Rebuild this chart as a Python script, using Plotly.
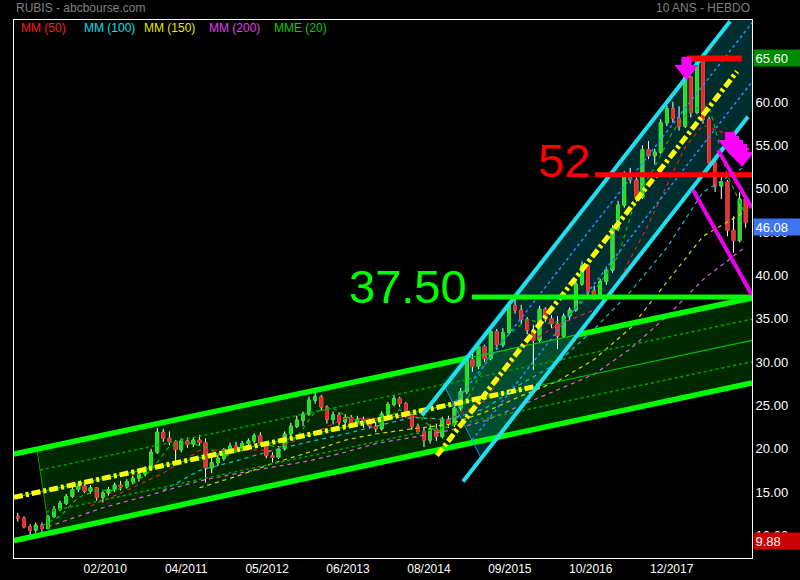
import plotly.graph_objects as go
import pandas as pd

FONT = "Liberation Sans, Arial, Helvetica, sans-serif"

# ---------------- data: monthly candles ----------------
candle_dates = (pd.date_range("2008-12-01", periods=121, freq="MS") + pd.Timedelta(days=9)).strftime("%Y-%m-%d").tolist()

opens = [12.2, 12.0, 11.0, 10.6, 11.2, 10.8, 12.2, 13.0, 13.7, 14.5,
         15.3, 15.7, 15.1, 15.5, 14.4, 14.9, 15.3, 15.8, 15.6, 16.2,
         16.6, 17.1, 17.8, 19.6, 21.9, 21.2, 20.8, 19.9, 20.9, 20.5,
         21.0, 20.7, 17.8, 18.4, 18.9, 19.9, 20.3, 19.9, 20.6, 20.9,
         21.5, 20.7, 19.2, 19.0, 20.0, 21.7, 22.6, 23.3, 24.0, 25.6,
         26.0, 24.8, 23.4, 23.9, 23.1, 23.6, 23.0,
         23.4, 23.2, 22.6, 22.3, 24.0, 25.1, 25.8, 25.2, 23.9, 22.6, 22.0,
         21.0, 22.3, 21.4, 23.4, 22.8, 24.7, 26.6, 30.3, 29.5, 31.8,
         30.4, 33.5, 32.0, 33.4, 36.5, 36.0, 34.9, 33.7, 32.5, 36.1,
         35.0, 34.4, 33.0, 35.3, 36.0, 39.0, 41.1, 38.2, 37.8, 39.3,
         40.6, 45.4, 48.1, 51.5, 51.0, 49.0, 54.5, 53.8, 54.2, 57.6,
         59.2, 58.1, 57.2, 62.9, 58.8, 64.7, 58.0, 53.0, 50.3, 50.8,
         45.2, 44.0, 48.8]
highs = [12.6, 12.2, 11.3, 11.5, 11.5, 12.4, 13.4, 14.0, 14.8, 15.6,
         16.2, 16.0, 15.8, 15.6, 15.1, 15.6, 16.1, 16.3, 16.5, 16.9,
         17.4, 18.0, 20.0, 22.4, 22.3, 22.0, 21.0, 21.2, 21.3, 21.3,
         21.6, 21.2, 19.2, 19.3, 20.1, 20.7, 20.8, 20.9, 21.2, 21.8,
         21.9, 20.9, 19.6, 20.3, 22.0, 23.0, 23.8, 24.3, 26.0, 26.8,
         26.2, 25.0, 24.3, 24.2, 24.0, 23.9, 23.8,
         23.7, 23.4, 23.1, 24.3, 25.4, 26.2, 26.0, 25.4, 24.0, 22.9, 22.5,
         22.8, 22.9, 23.7, 23.8, 25.0, 27.0, 30.8, 31.0, 32.3, 32.0,
         33.9, 33.8, 33.9, 37.0, 37.5, 36.6, 35.2, 34.3, 36.5, 36.3,
         35.4, 35.3, 35.6, 36.3, 39.4, 41.6, 41.3, 38.8, 39.6, 41.0,
         45.8, 48.6, 52.0, 52.4, 51.3, 55.0, 55.5, 54.6, 58.0, 59.6,
         60.0, 59.5, 63.4, 63.0, 65.0, 64.9, 58.3, 53.2, 51.4, 51.0,
         46.8, 49.6, 49.0]
lows = [11.6, 10.8, 10.0, 10.3, 10.4, 10.7, 12.0, 12.8, 13.5, 14.3,
        15.0, 14.9, 14.8, 14.0, 13.8, 14.6, 15.0, 15.2, 15.4, 15.9,
        16.2, 16.8, 17.6, 19.4, 20.8, 20.4, 18.5, 19.6, 20.1, 20.2,
        20.4, 16.1, 17.2, 18.0, 18.6, 19.5, 19.6, 19.7, 20.2, 20.6,
        20.4, 18.9, 18.4, 18.8, 19.8, 21.4, 22.4, 22.6, 23.8, 25.2,
        24.4, 22.9, 22.8, 22.7, 22.5, 22.7, 22.6,
        22.4, 22.3, 21.9, 22.1, 23.8, 24.9, 24.8, 23.6, 22.2, 21.7, 20.2,
        20.6, 20.9, 21.2, 22.4, 22.5, 24.4, 26.3, 28.9, 29.2, 30.0,
        30.2, 31.5, 31.7, 33.2, 35.6, 34.4, 33.2, 29.1, 32.3, 34.6,
        33.9, 31.5, 32.8, 34.8, 35.8, 38.8, 37.7, 37.2, 37.6, 38.9,
        40.3, 45.1, 47.8, 50.6, 48.5, 48.8, 53.4, 52.8, 54.0, 57.2,
        57.6, 56.7, 57.0, 58.2, 58.6, 57.5, 52.5, 49.6, 48.8, 44.5,
        42.6, 43.8, 45.5]
closes = [12.0, 11.0, 10.6, 11.2, 10.8, 12.2, 13.0, 13.7, 14.5, 15.3,
          15.7, 15.1, 15.5, 14.4, 14.9, 15.3, 15.8, 15.6, 16.2, 16.6,
          17.1, 17.8, 19.6, 21.9, 21.2, 20.8, 19.9, 20.9, 20.5, 21.0,
          20.7, 17.8, 18.4, 18.9, 19.9, 20.3, 19.9, 20.6, 20.9, 21.5,
          20.7, 19.2, 19.0, 20.0, 21.7, 22.6, 23.3, 24.0, 25.6, 26.0,
          24.8, 23.4, 23.9, 23.1, 23.6, 23.0, 23.4,
          23.2, 22.6, 22.3, 24.0, 25.1, 25.8, 25.2, 23.9, 22.6, 22.0, 21.0,
          22.3, 21.4, 23.4, 22.8, 24.7, 26.6, 30.3, 29.5, 31.8, 30.4,
          33.5, 32.0, 33.4, 36.5, 36.0, 34.9, 33.7, 32.5, 36.1, 35.0,
          34.4, 33.0, 35.3, 36.0, 39.0, 41.1, 38.2, 37.8, 39.3, 40.6,
          45.4, 48.1, 51.5, 51.0, 49.0, 54.5, 53.8, 54.2, 57.6, 59.2,
          58.1, 57.2, 62.9, 58.8, 64.7, 58.0, 53.0, 50.3, 50.8, 45.2,
          44.0, 48.8, 46.08]

# ---------------- moving averages (sampled readings) ----------------
mm50_dates = ["2009-12", "2010-06", "2010-12", "2011-06", "2011-12", "2012-06", "2012-12", "2013-06",
              "2013-11", "2014-05", "2014-11", "2015-05", "2015-11", "2016-05", "2016-11", "2017-02",
              "2017-05", "2017-08", "2017-11", "2018-02", "2018-05", "2018-09", "2018-12"]
mm50_vals = [13.4, 15.2, 17.2, 19.8, 19.9, 19.8, 21.6, 23.5, 23.5, 23.7, 23.3, 25.5, 31.6, 34.3,
             36.0, 37.9, 41.9, 45.9, 50.4, 54.8, 57.3, 56.3, 53.3]
mm100_dates = ["2010-12", "2011-06", "2011-12", "2012-06", "2012-12", "2013-06", "2013-11", "2014-05",
               "2014-11", "2015-05", "2015-11", "2016-05", "2016-11", "2017-05", "2017-11", "2018-05", "2018-12"]
mm100_vals = [15.2, 17.5, 18.6, 19.8, 20.8, 21.7, 22.6, 23.6, 23.4, 24.6, 27.5, 29.9, 33.8, 38.1, 43.2, 49.6, 52.6]
mm150_dates = ["2011-06", "2011-12", "2012-06", "2012-12", "2013-06", "2013-11", "2014-05", "2014-11",
               "2015-05", "2015-11", "2016-05", "2016-11", "2017-05", "2017-11", "2018-05", "2018-12"]
mm150_vals = [15.5, 16.8, 18.3, 19.6, 21.0, 21.7, 22.3, 22.8, 24.2, 26.1, 27.8, 30.3, 33.9, 39.3, 44.5, 47.4]
mm200_dates = ["2009-05", "2010-02", "2010-10", "2011-06", "2012-02", "2012-12", "2013-06", "2013-11",
               "2014-05", "2014-11", "2015-05", "2015-11", "2016-05", "2016-11", "2017-05", "2017-11",
               "2018-05", "2018-12"]
mm200_vals = [11.0, 13.2, 14.7, 16.3, 17.4, 18.6, 19.6, 20.6, 21.3, 22.1, 23.2, 25.0, 26.8, 28.6, 31.5,
              35.3, 39.5, 43.3]
mme20_dates = ["2009-04", "2009-07", "2009-10", "2010-01", "2010-04", "2010-07", "2010-10", "2011-01",
               "2011-04", "2011-07", "2011-10", "2012-01", "2012-04", "2012-07", "2012-10", "2013-01",
               "2013-04", "2013-07", "2013-09", "2013-12", "2014-03", "2014-06", "2014-09", "2014-12",
               "2015-03", "2015-06", "2015-09", "2015-12", "2016-03", "2016-06", "2016-09", "2016-12",
               "2017-03", "2017-06", "2017-09", "2017-12", "2018-03", "2018-06", "2018-09", "2018-12"]
mme20_vals = [11.1, 12.2, 14.4, 15.2, 15.2, 15.9, 17.5, 20.3, 20.7, 20.2, 19.1, 19.9, 20.7, 20.1, 21.3,
              24.3, 24.7, 23.4, 23.2, 23.0, 24.5, 23.9, 21.9, 22.9, 26.8, 31.1, 33.2, 34.9, 34.4, 34.8,
              36.9, 39.1, 42.2, 49.0, 52.5, 56.6, 59.2, 59.5, 51.5, 47.0]

# ---------------- drawn analysis objects (endpoints) ----------------
x_range = ["2008-11-21", "2019-01-11"]
green_upper_x, green_upper_y = ["2008-11-21", "2019-01-11"], [19.4, 37.4]
green_upper_thick_a = (["2008-11-21", "2015-02-10"], [19.4, 30.44])
green_upper_thick_b = (["2016-08-19", "2019-01-11"], [33.15, 37.4])
green_lower_x, green_lower_y = ["2008-11-21", "2019-01-11"], [9.4, 27.6]
green_center_x, green_center_y = ["2008-11-21", "2019-01-11"], [14.4, 32.5]
green_trend_x, green_trend_y = ["2008-11-21", "2016-02-12"], [14.4, 27.3]
green_qhi_x, green_qhi_y = ["2009-04-01", "2019-01-11"], [17.54, 34.95]
green_qlo_x, green_qlo_y = ["2009-05-03", "2019-01-11"], [12.70, 30.05]
green_edge_x, green_edge_y = ["2009-03-16", "2009-05-18"], [19.96, 10.28]
green_fill_pts = [("2009-03-16", 19.96), ("2019-01-11", 37.4), ("2019-01-11", 27.6), ("2009-05-18", 10.28)]

cyan_upper_x, cyan_upper_y = ["2014-06-30", "2018-09-23"], [23.83, 69.30]
cyan_lower_x, cyan_lower_y = ["2015-01-22", "2018-12-22"], [16.22, 58.29]
cyan_center_x, cyan_center_y = ["2014-09-13", "2018-10-28"], [19.22, 63.51]
cyan_qhi_x, cyan_qhi_y = ["2014-11-27", "2019-01-11"], [24.84, 69.13]
cyan_qlo_x, cyan_qlo_y = ["2015-03-08", "2019-01-11"], [20.97, 62.31]
cyan_edge_x, cyan_edge_y = ["2014-10-13", "2015-04-25"], [27.59, 18.82]
cyan_fill_pts = [("2014-10-13", 27.59), ("2018-12-15", 71.76), ("2019-05-31", 71.76),
                 ("2019-05-31", 63.02), ("2015-04-25", 18.82)]

magenta_upper_x, magenta_upper_y = ["2018-07-24", "2019-01-11"], [54.46, 47.77]
magenta_lower_x, magenta_lower_y = ["2018-03-21", "2019-01-11"], [49.85, 37.74]

level_green_x, level_green_y = ["2015-03-08", "2019-01-11"], [37.5, 37.5]
level_red_x, level_red_y = ["2016-11-14", "2019-01-11"], [51.6, 51.6]
top_bar_x, top_bar_y = ["2018-02-19", "2018-11-22"], [65.0, 65.0]

arrow_tips = [("2018-02-16", 62.54), ("2018-09-23", 53.89), ("2018-10-13", 53.43),
              ("2018-11-02", 52.96), ("2018-11-22", 52.50)]

tick_dates = ["2010-02-22", "2011-04-04", "2012-05-14", "2013-06-24", "2014-08-04",
              "2015-09-14", "2016-10-24", "2017-12-04"]
tick_labels = ["02/2010", "04/2011", "05/2012", "06/2013", "08/2014", "09/2015", "10/2016", "12/2017"]
y_ticks = [10, 15, 20, 25, 30, 35, 40, 45, 50, 55, 60, 65]

legend_items = [("MM (50)", "#ff1a1a"), ("MM (100)", "#00e0e8"), ("MM (150)", "#e8e800"),
                ("MM (200)", "#e040e8"), ("MME (20)", "#00d000")]
legend_px = [19, 82, 142, 207, 272]

price_boxes = [("65.60", 65.60, "#008a00"), ("46.08", 46.08, "#3d74f0"), ("9.88", 9.88, "#cc0000")]

# ---------------- figure ----------------
fig = go.Figure()


def add_line(xs, ys, color, width, dash=None, opacity=1.0):
    fig.add_trace(go.Scatter(x=xs, y=ys, mode="lines", opacity=opacity,
                             line=dict(color=color, width=width, dash=dash),
                             hoverinfo="skip", showlegend=False))


# wicks (white) then coloured bodies on top
fig.add_trace(go.Candlestick(
    x=candle_dates, open=opens, high=highs, low=lows, close=closes,
    increasing=dict(fillcolor="#ffffff", line=dict(color="#ffffff", width=1)),
    decreasing=dict(fillcolor="#ffffff", line=dict(color="#ffffff", width=1)),
    whiskerwidth=0, showlegend=False, hoverinfo="skip"))
body_top = [max(o, c) for o, c in zip(opens, closes)]
body_bot = [min(o, c) for o, c in zip(opens, closes)]
fig.add_trace(go.Candlestick(
    x=candle_dates, open=opens, high=body_top, low=body_bot, close=closes,
    increasing=dict(fillcolor="#22e022", line=dict(color="#22e022", width=1)),
    decreasing=dict(fillcolor="#f02828", line=dict(color="#f02828", width=1)),
    whiskerwidth=0, showlegend=False, hoverinfo="skip"))

# moving averages
ma_dash = "4px,4px"
add_line([d + "-10" for d in mme20_dates], mme20_vals, "#00c000", 1.2, ma_dash)
add_line([d + "-10" for d in mm50_dates], mm50_vals, "#e02020", 1.2, ma_dash)
add_line([d + "-10" for d in mm100_dates], mm100_vals, "#00c8d0", 1.2, ma_dash)
add_line([d + "-10" for d in mm150_dates], mm150_vals, "#d8d800", 1.2, ma_dash)
add_line([d + "-10" for d in mm200_dates], mm200_vals, "#e060e0", 1.2, ma_dash)

# long green channel
add_line(green_edge_x, green_edge_y, "#00a000", 1)
add_line(green_qhi_x, green_qhi_y, "#00a000", 1.5, "dot")
add_line(green_qlo_x, green_qlo_y, "#00a000", 1.5, "dot")
add_line(green_center_x, green_center_y, "#00c000", 1.2)
add_line(green_upper_x, green_upper_y, "#00d000", 1.2)
add_line(*green_upper_thick_a, "#00ff00", 5.5)
add_line(*green_upper_thick_b, "#00ff00", 5.5)
add_line(green_lower_x, green_lower_y, "#00ff00", 5.5)
add_line(green_trend_x, green_trend_y, "#ffff00", 5, "9px,3px,3px,3px")

# steep cyan channel
add_line(cyan_edge_x, cyan_edge_y, "#1e90ff", 1)
add_line(cyan_qhi_x, cyan_qhi_y, "#1e90ff", 1.5, "dot")
add_line(cyan_qlo_x, cyan_qlo_y, "#1e90ff", 1.5, "dot")
add_line(cyan_upper_x, cyan_upper_y, "#1ee0f0", 4)
add_line(cyan_lower_x, cyan_lower_y, "#1ee0f0", 4)
add_line(cyan_center_x, cyan_center_y, "#ffff00", 5, "9px,3px,3px,3px")

# levels and magenta channel
add_line(level_green_x, level_green_y, "#00ff00", 5)
add_line(level_red_x, level_red_y, "#ff0000", 5)
add_line(top_bar_x, top_bar_y, "#ff0000", 6)
add_line(magenta_upper_x, magenta_upper_y, "#ee00ee", 4)
add_line(magenta_lower_x, magenta_lower_y, "#ee00ee", 4)


def poly(pts):
    return "M" + " L".join(f"{x},{y}" for x, y in pts) + " Z"


shapes = [
    dict(type="path", path=poly(green_fill_pts), xref="x", yref="y", layer="below",
         fillcolor="rgba(0,255,0,0.16)", line=dict(width=0)),
    dict(type="path", path=poly(cyan_fill_pts), xref="x", yref="y", layer="below",
         fillcolor="rgba(0,210,210,0.22)", line=dict(width=0)),
]
arrow_path = "M -5,23 L 5,23 L 5,15 L 12,15 L 0,0 L -12,15 L -5,15 Z"
for ax_, ay_ in arrow_tips:
    shapes.append(dict(type="path", xref="x", yref="y", xsizemode="pixel", ysizemode="pixel",
                       xanchor=ax_, yanchor=ay_, path=arrow_path, fillcolor="#ff00ff",
                       line=dict(width=0), layer="above"))

annotations = [
    dict(text="RUBIS - abcbourse.com", xref="paper", yref="paper", x=0, y=1, xanchor="left",
         yanchor="middle", yshift=12, showarrow=False, font=dict(family=FONT, size=12, color="#808080")),
    dict(text="10 ANS - HEBDO", xref="paper", yref="paper", x=1, y=1, xanchor="right",
         yanchor="middle", yshift=12, showarrow=False, font=dict(family=FONT, size=12, color="#808080")),
    dict(text="37.50", xref="x", yref="y", x=level_green_x[0], y=38.72, xanchor="right",
         yanchor="middle", xshift=-3, showarrow=False, font=dict(family=FONT, size=47, color="#00ff00")),
    dict(text="52", xref="x", yref="y", x=level_red_x[0], y=53.2, xanchor="right",
         yanchor="middle", xshift=-3, showarrow=False, font=dict(family=FONT, size=47, color="#ff0000")),
]
for (txt, col), px in zip(legend_items, legend_px):
    annotations.append(dict(text=txt, xref="paper", yref="paper", x=(px - 14) / 738, y=1,
                            xanchor="left", yanchor="middle", yshift=-8, showarrow=False,
                            font=dict(family=FONT, size=12, color=col)))
for txt, val, col in price_boxes:
    annotations.append(dict(text=txt, xref="paper", yref="y", x=1, y=val, xanchor="left",
                            yanchor="middle", xshift=1, yshift=-4.5, showarrow=False,
                            bgcolor=col, width=43, height=13, borderpad=1.5, align="left",
                            font=dict(family=FONT, size=13, color="#ffffff")))

fig.update_layout(
    width=800, height=580, autosize=False,
    paper_bgcolor="#000000", plot_bgcolor="#000000",
    margin=dict(l=14, r=48, t=20, b=22, pad=0),
    showlegend=False, boxmode="overlay",
    shapes=shapes, annotations=annotations,
    xaxis=dict(type="date", range=x_range, rangeslider=dict(visible=False), automargin=False,
               tickvals=tick_dates, ticktext=tick_labels, showgrid=False, zeroline=False,
               showline=True, linecolor="#ffffff", linewidth=1, mirror=True, ticks="",
               tickfont=dict(family=FONT, size=12, color="#ffffff")),
    yaxis=dict(range=[7.40, 69.45], side="right", tickvals=y_ticks, automargin=False,
               ticktext=[f"{v:.2f}" for v in y_ticks], showgrid=False, zeroline=False,
               showline=True, linecolor="#ffffff", linewidth=1, mirror=True, ticks="",
               tickfont=dict(family=FONT, size=13, color="#ffffff")),
)

fig.write_html("out.html", config={"displayModeBar": False},
               post_script="document.body.style.margin='0px';document.body.style.background='#000';")
